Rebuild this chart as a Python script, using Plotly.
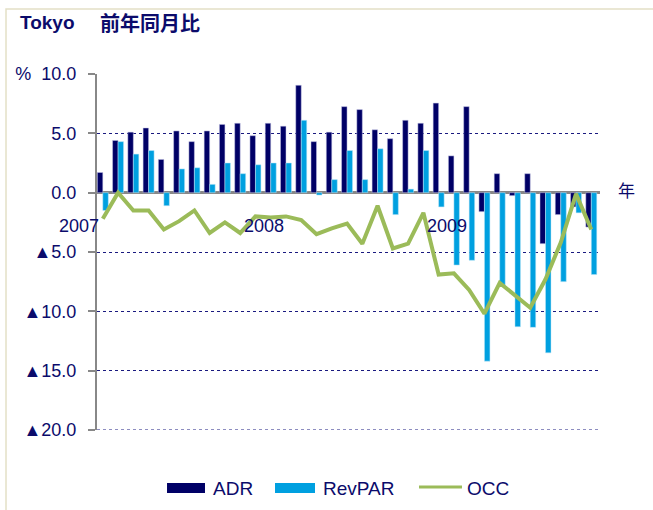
import plotly.graph_objects as go

months = [f"{y}/{m:02d}" for y in (2007, 2008, 2009) for m in range(1, 13)][:33]

adr = [1.7, 4.4, 5.1, 5.45, 2.8, 5.2, 4.3, 5.2, 5.75, 5.85, 4.8, 5.85,
       5.6, 9.05, 4.3, 5.1, 7.25, 7.0, 5.3, 4.55, 6.1, 5.85, 7.55, 3.1,
       7.25, -1.6, 1.6, -0.25, 1.6, -4.3, -1.85, -1.2, -2.9]
revpar = [-1.5, 4.3, 3.25, 3.55, -1.1, 2.0, 2.1, 0.7, 2.5, 1.6, 2.35, 2.5,
          2.5, 6.1, -0.2, 1.1, 3.55, 1.1, 3.7, -1.85, 0.3, 3.55, -1.2, -6.1,
          -5.7, -14.2, -7.8, -11.3, -11.35, -13.5, -7.5, -1.7, -6.9]
occ = [-2.2, 0.0, -1.5, -1.5, -3.1, -2.4, -1.5, -3.4, -2.5, -3.4, -2.0, -2.1,
       -2.0, -2.3, -3.5, -3.0, -2.6, -4.3, -1.1, -4.7, -4.3, -1.7, -6.9, -6.8,
       -8.2, -10.2, -7.6, -8.6, -9.7, -7.3, -4.2, -0.1, -3.1]

y_tickvals = [10, 5, 0, -5, -10, -15, -20]
y_ticktext = ["%  10.0", "5.0", "0.0", "▲5.0", "▲10.0", "▲15.0", "▲20.0"]
year_labels = ["2007", "2008", "2009"]
year_xpaper = [-0.0358, 0.332, 0.6958]

NAVY = "#000066"
CYAN = "#00A0E0"
GREEN = "#9BBB59"
TXT = "#0B0B6B"
FONT = "Liberation Sans, Arial, Noto Sans CJK JP, sans-serif"

fig = go.Figure()
fig.add_trace(go.Bar(x=months, y=adr, name="ADR", marker=dict(color=NAVY, line=dict(color="#C8C8E8", width=0.5))))
fig.add_trace(go.Bar(x=months, y=revpar, name="RevPAR", marker=dict(color=CYAN, line=dict(color="#BFE6F7", width=0.5))))
fig.add_trace(go.Scatter(x=months, y=occ, name="OCC", mode="lines", line=dict(color=GREEN, width=4)))

fig.update_layout(
    width=653, height=510,
    margin=dict(l=97, r=53, t=74, b=80, autoexpand=False),
    paper_bgcolor="white", plot_bgcolor="white",
    barmode="group", bargap=0.28, bargroupgap=0,
    showlegend=False,
    font=dict(family=FONT, color=TXT, size=18),
)
fig.update_xaxes(type="category", range=[-0.38, 32.57], showticklabels=False,
                 showgrid=False, showline=False, zeroline=False, ticks="", automargin=False)
fig.update_yaxes(range=[-20, 10], tickvals=y_tickvals, ticktext=y_ticktext,
                 tickfont=dict(size=18, color=TXT, family=FONT),
                 showgrid=True, gridcolor="#1A1A80", gridwidth=1, griddash="dot",
                 zeroline=True, zerolinecolor="#888888", zerolinewidth=2.5,
                 showline=True, linecolor="#888888", linewidth=2,
                 ticks="outside", ticklen=7, tickcolor="#888888", tickwidth=1.5,
                 ticklabelstandoff=8, automargin=False)

# bottom gridline at -20 (plotly omits the grid line on the range edge)
fig.add_shape(type="line", xref="paper", yref="y", x0=0, x1=1, y0=-20, y1=-20,
              line=dict(color="#1A1A80", width=1, dash="dot"), layer="below")

# chart frame
fig.add_shape(type="rect", xref="paper", yref="paper", x0=-0.1809, x1=1.2, y0=-0.3, y1=1.1826,
              line=dict(color="#E3E0C6", width=1.5), layer="below")

ann = []
ann.append(dict(text="<b>Tokyo</b>", xref="paper", yref="paper", x=-0.1571, y=1.146,
                xanchor="left", yanchor="middle", showarrow=False, font=dict(size=19, color=TXT)))
ann.append(dict(text="<b>前年同月比</b>", xref="paper", yref="paper", x=(98 - 97) / 503, y=1.146,
                xanchor="left", yanchor="middle", showarrow=False,
                font=dict(size=20, color=TXT, family="Noto Sans CJK JP")))
for lbl, xp in zip(year_labels, year_xpaper):
    ann.append(dict(text=lbl, x=xp, y=0.5744, xref="paper", yref="paper", showarrow=False,
                    xanchor="center", yanchor="middle", font=dict(size=18, color=TXT)))
ann.append(dict(text="年", xref="paper", yref="paper", x=1.0517, y=0.6713, showarrow=False,
                xanchor="center", yanchor="middle", font=dict(size=17, color=TXT)))

# legend (custom)
leg_y0, leg_y1, leg_yc = -0.1770, -0.1489, -0.1657
fig.add_shape(type="rect", xref="paper", yref="paper", x0=0.1392, x1=0.2147, y0=leg_y0, y1=leg_y1,
              fillcolor=NAVY, line=dict(width=0))
fig.add_shape(type="rect", xref="paper", yref="paper", x0=0.3539, x1=0.4334, y0=leg_y0, y1=leg_y1,
              fillcolor=CYAN, line=dict(width=0))
fig.add_shape(type="line", xref="paper", yref="paper", x0=0.6402, x1=0.7256, y0=-0.1601, y1=-0.1601,
              line=dict(color=GREEN, width=3))
for txt, xp in zip(["ADR", "RevPAR", "OCC"], [0.2266, 0.4453, 0.7316]):
    ann.append(dict(text=txt, xref="paper", yref="paper", x=xp, y=leg_yc, xanchor="left",
                    yanchor="middle", showarrow=False, font=dict(size=19, color=TXT)))

fig.update_layout(annotations=ann)
fig.write_html("out.html", config={"displayModeBar": False},
               post_script="document.body.style.margin='0';")
